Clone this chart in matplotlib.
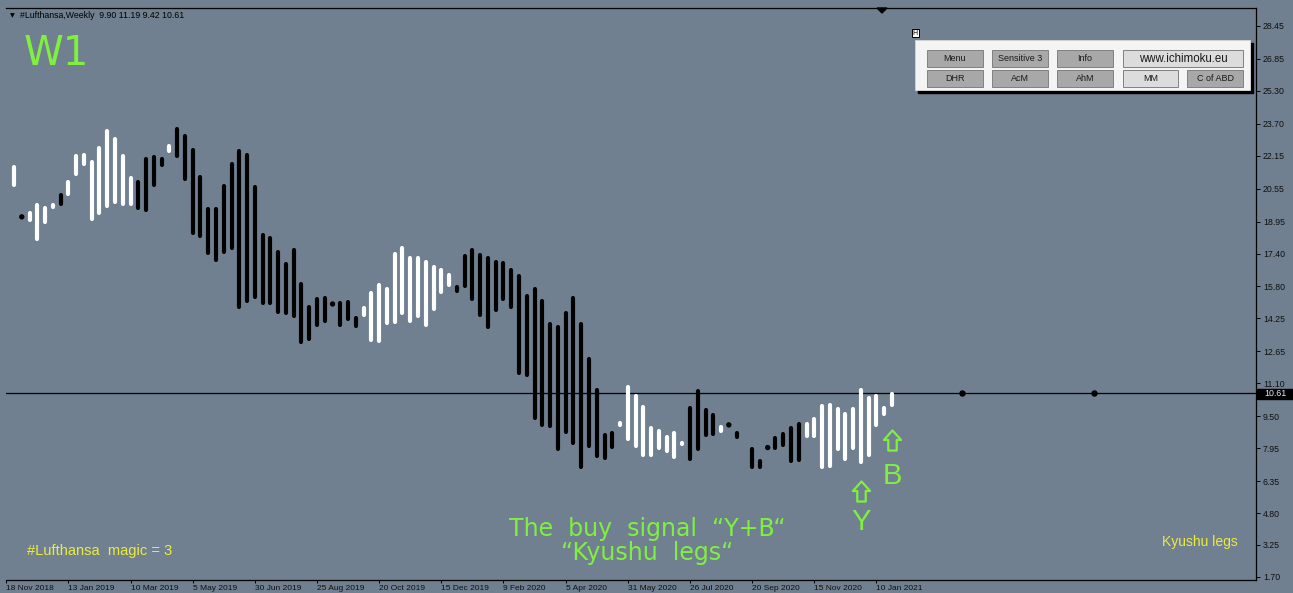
import matplotlib
matplotlib.use("Agg")
import matplotlib.pyplot as plt
from matplotlib.patches import Rectangle, Polygon
from matplotlib.path import Path
import pandas as pd

W, H = 1293, 593
BG = "#708090"
GREEN = "#80F040"
YELLOW = "#ECEC3C"

# weekly "Kyushu legs", first bar = week of 25 Nov 2018
first_week = "2018-11-25"
leg_hi = [21.67, 19.18, 19.48, 19.86, 19.71, 19.86, 20.34, 20.94, 22.24, 22.28,
          21.94, 22.59, 23.45, 23.06, 22.22, 21.18, 20.96, 22.10, 22.17, 22.06,
          22.71, 23.55, 23.21, 22.54, 21.20, 19.63, 19.63, 20.79, 21.85, 22.49,
          22.27, 20.70, 18.39, 18.22, 17.54, 16.96, 17.64, 16.00, 14.90, 15.27,
          15.33, 14.95, 15.07, 15.15, 14.37, 14.86, 15.58, 15.94, 15.79, 17.46,
          17.74, 17.27, 17.25, 17.07, 16.83, 16.69, 16.46, 15.88, 17.35, 17.67,
          17.41, 17.28, 17.07, 17.03, 16.69, 16.42, 15.42, 15.79, 15.18, 14.05,
          13.90, 14.61, 15.33, 14.05, 12.39, 10.85, 8.68, 8.80, 9.24, 10.99,
          10.57, 10.05, 9.00, 8.87, 8.59, 8.79, 8.27, 10.00, 10.83, 9.89,
          9.65, 9.08, 9.08, 8.79, 8.68, 8.00, 7.43, 7.98, 8.51, 8.75,
          9.03, 9.21, 9.19, 9.48, 10.08, 10.13, 9.92, 9.68, 9.92, 10.86,
          10.49, 10.58, 10.00, 10.65]
leg_lo = [20.62, 19.18, 18.92, 18.01, 18.84, 19.57, 19.73, 20.18, 21.18, 21.65,
          18.98, 19.26, 19.63, 19.79, 19.71, 19.71, 19.50, 19.42, 20.65, 21.62,
          22.30, 22.06, 20.92, 18.30, 18.17, 17.33, 16.98, 17.38, 17.59, 14.70,
          15.02, 15.18, 14.92, 14.92, 14.45, 14.41, 14.27, 13.00, 13.16, 13.84,
          14.02, 14.95, 13.85, 14.14, 13.77, 14.31, 13.11, 13.05, 13.93, 13.98,
          14.42, 14.02, 14.26, 13.84, 14.63, 15.42, 15.76, 15.47, 15.74, 15.11,
          14.34, 13.72, 14.56, 15.11, 14.70, 11.49, 11.41, 9.32, 9.00, 8.93,
          7.83, 8.64, 8.11, 6.94, 7.96, 7.48, 7.37, 7.90, 9.00, 8.32,
          7.95, 7.54, 7.54, 7.87, 7.71, 7.43, 8.06, 7.35, 7.83, 8.51,
          8.54, 8.68, 9.08, 8.38, 8.48, 6.94, 6.94, 7.98, 7.87, 8.03,
          7.22, 7.30, 8.43, 8.43, 6.94, 6.98, 7.83, 7.35, 7.87, 7.19,
          7.54, 8.97, 9.52, 9.94]
# W = white leg, B = black leg
leg_col = ("WBWWWWBWWW" "WWWWWWBBBB" "WBBBBBBBBB" "BBBBBBBBBB"
           "BBBBBWWWWW" "WWWWWWWBBB" "BBBBBBBBBB" "BBBBBBBBWW"
           "WWWWWWWBBB" "BWBBBBBBBB" "BBWWWWWWWW" "WWWW")

last_close = 10.61
future_dots = [122, 139]
price_ticks = [28.45, 26.85, 25.30, 23.70, 22.15, 20.55, 18.95, 17.40, 15.80,
               14.25, 12.65, 11.10, 9.50, 7.95, 6.35, 4.80, 3.25, 1.70]
date_ticks = ["18 Nov 2018", "13 Jan 2019", "10 Mar 2019", "5 May 2019",
              "30 Jun 2019", "25 Aug 2019", "20 Oct 2019", "15 Dec 2019",
              "9 Feb 2020", "5 Apr 2020", "31 May 2020", "26 Jul 2020",
              "20 Sep 2020", "15 Nov 2020", "10 Jan 2021"]

fig = plt.figure(figsize=(W / 100, H / 100), dpi=100, facecolor=BG)
ax = fig.add_axes([6 / W, 1 - 580 / H, 1250 / W, 572 / H], facecolor=BG)

weeks = pd.date_range(first_week, periods=len(leg_hi), freq="W-SUN")
x = list(range(len(weeks)))
cols = ["white" if c == "W" else "black" for c in leg_col]

cap = 0.09
bars = [(i, h, l, c) for i, h, l, c in zip(x, leg_hi, leg_lo, cols) if h - l > 2 * cap]
dots = [(i, h, c) for i, h, l, c in zip(x, leg_hi, leg_lo, cols) if h - l <= 2 * cap]
ax.vlines([b[0] for b in bars], [b[2] + cap for b in bars], [b[1] - cap for b in bars],
          colors=[b[3] for b in bars], linewidth=3.0, capstyle="round", zorder=3)
ax.scatter([d[0] for d in dots], [d[1] for d in dots], s=15,
           c=[d[2] for d in dots], linewidths=0, zorder=3)

ax.axhline(last_close, color="black", lw=0.9, zorder=2)
ax.plot(future_dots, [last_close] * len(future_dots), "o", color="black", ms=3.6, zorder=3)

ax.set_xlim(-1.03, 159.85)
ax.set_ylim(1.55, 29.32)

tick_pos = (pd.to_datetime(date_ticks, format="%d %b %Y") - weeks[0]).days / 7
ax.set_xticks(list(tick_pos), date_ticks)
for lab in ax.get_xticklabels():
    lab.set_horizontalalignment("left")
ax.yaxis.tick_right()
ax.set_yticks(price_ticks, [f"{v:.2f}" for v in price_ticks])
ax.tick_params(axis="x", length=2.5, width=0.7, pad=1, labelsize=6, colors="black")
ax.tick_params(axis="y", length=3, width=0.7, pad=2, labelsize=6.3, colors="black")
for lab in ax.get_xticklabels() + ax.get_yticklabels():
    lab.set_family("Liberation Sans")
    lab.set_color("#101010")
for s in ["top", "right", "bottom"]:
    ax.spines[s].set_color("black")
    ax.spines[s].set_linewidth(0.9)
ax.spines["left"].set_visible(False)

# signal marks under the legs: hollow block arrows + letters
up_arrow = Path([(0, 1), (0.85, 0.05), (0.42, 0.05), (0.42, -1), (-0.42, -1),
                 (-0.42, 0.05), (-0.85, 0.05), (0, 1)], closed=True)
for bar_i, arrow_y, letter_y, letter in [(109, 5.87, 4.39, "Y"), (113, 8.35, 6.60, "B")]:
    ax.plot(x[bar_i], arrow_y, marker=up_arrow, ms=14.5, mfc="none", mec=GREEN,
            mew=1.6, zorder=4)
    ax.text(x[bar_i], letter_y, letter, color=GREEN, fontsize=21, ha="center",
            va="center", family="Liberation Sans", zorder=4)

# overlay in pixel coordinates for labels and the button panel
ov = fig.add_axes([0, 0, 1, 1], facecolor="none")
ov.set_xlim(0, W)
ov.set_ylim(H, 0)
ov.axis("off")

ov.text(10, 16, "\u25bc", fontsize=4.5, color="black", ha="left", va="center")
ov.text(20, 16, "#Lufthansa,Weekly  9.90 11.19 9.42 10.61", fontsize=6.3,
        family="Liberation Sans", color="black", ha="left", va="center")
ov.text(24, 54, "W1", fontsize=29, color=GREEN, ha="left", va="center")
ov.text(27, 551, "#Lufthansa  magic = 3", fontsize=10.5, family="Liberation Sans",
        color=YELLOW, ha="left", va="center")
ov.text(1200, 542, "Kyushu legs", fontsize=10, family="Liberation Sans",
        color=YELLOW, ha="center", va="center")
ov.text(647, 529, "The  buy  signal  \u201cY+B\u201c", fontsize=17, color=GREEN,
        ha="center", va="center")
ov.text(647, 553, "\u201cKyushu  legs\u201c", fontsize=17, color=GREEN,
        ha="center", va="center")

# chart shift marker
ov.add_patch(Polygon([(877, 8), (887, 8), (882, 13)], closed=True, color="black"))

# last price box
ov.add_patch(Rectangle((1257, 389), 36, 10, color="black"))
ov.text(1264, 394, f"{last_close:.2f}", fontsize=6.3, family="Liberation Sans",
        color="#E8E8E8", ha="left", va="center")

# button panel
ov.add_patch(Rectangle((911.5, 28.5), 7.5, 8.5, fc="white", ec="black", lw=0.7))
ov.text(915.2, 32.8, "H", fontsize=5, ha="center", va="center", color="black")
ov.add_patch(Rectangle((918, 43), 335, 50, color="black"))
ov.add_patch(Rectangle((915, 40), 335, 50, fc="#F4F4F4", ec="#D0D0D0", lw=0.7))
buttons = [("Menu", 926.7, 50, 56.6, "#A8A8A8", 6.5),
           ("Sensitive 3", 991.7, 50, 56.6, "#A8A8A8", 6.5),
           ("Info", 1056.7, 50, 56.6, "#A8A8A8", 6.5),
           ("www.ichimoku.eu", 1123.3, 50, 119.4, "#DCDCDC", 8.3),
           ("DHR", 926.7, 70, 56.6, "#A8A8A8", 6.5),
           ("AcM", 991.7, 70, 56.6, "#A8A8A8", 6.5),
           ("AhM", 1056.7, 70, 56.6, "#A8A8A8", 6.5),
           ("MM", 1123.3, 70, 55, "#DCDCDC", 6.5),
           ("C of ABD", 1187.3, 70, 56, "#A8A8A8", 6.5)]
for name, bx, by, bw, fc, fs in buttons:
    ov.add_patch(Rectangle((bx, by), bw, 16.5, fc=fc, ec="#808080", lw=0.7))
    ov.text(bx + bw / 2, by + 8.5, name, fontsize=fs, family="Liberation Sans",
            color="#1A1A1A", ha="center", va="center")

fig.savefig("out.png", dpi=100, facecolor=BG)
